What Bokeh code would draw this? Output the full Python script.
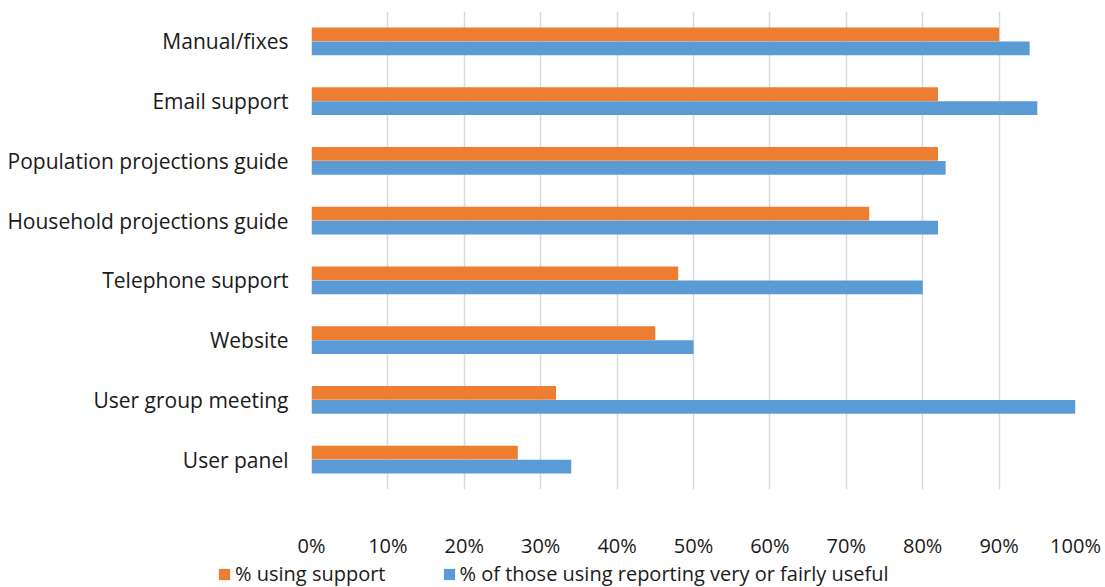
from bokeh.plotting import figure
from bokeh.layouts import column
from bokeh.models import FactorRange, FixedTicker, NumeralTickFormatter, Legend, LegendItem
from bokeh.transform import dodge
from bokeh.embed import file_html
from bokeh.resources import INLINE
from bokeh.models import ColumnDataSource

categories = ["Manual/fixes", "Email support", "Population projections guide",
              "Household projections guide", "Telephone support", "Website",
              "User group meeting", "User panel"]
using_support = [0.90, 0.82, 0.82, 0.73, 0.48, 0.45, 0.32, 0.27]
useful = [0.94, 0.95, 0.83, 0.82, 0.80, 0.50, 1.00, 0.34]
series_names = ["% using support", "% of those using reporting very or fairly useful"]
x_ticks = [0, 0.1, 0.2, 0.3, 0.4, 0.5, 0.6, 0.7, 0.8, 0.9, 1.0]

FONT = "Open Sans"
TXT = "#1a1a1a"
ORANGE = "#ED7D31"
BLUE = "#5B9BD5"
src = ColumnDataSource(dict(cat=categories, a=using_support, b=useful))

p = figure(width=1105, height=561, output_backend="svg", toolbar_location=None,
           y_range=FactorRange(*list(reversed(categories))), x_range=(0, 1),
           min_border_left=311, min_border_right=30, min_border_top=11, min_border_bottom=70)
p.outline_line_color = None

p.hbar(y=dodge("cat", 0.1167, range=p.y_range), right="a", left=0, height=0.233,
       source=src, color=ORANGE, line_color=None)
p.hbar(y=dodge("cat", -0.1167, range=p.y_range), right="b", left=0, height=0.233,
       source=src, color=BLUE, line_color=None)

p.xaxis.ticker = FixedTicker(ticks=x_ticks)
p.xaxis.formatter = NumeralTickFormatter(format="0%")
p.xaxis.axis_line_color = None
p.xaxis.major_tick_line_color = None
p.xaxis.minor_tick_line_color = None
p.xaxis.major_label_standoff = 36
p.xaxis.major_label_text_font = FONT
p.xaxis.major_label_text_font_size = "20px"
p.xaxis.major_label_text_color = TXT

p.yaxis.axis_line_color = None
p.yaxis.major_tick_line_color = None
p.yaxis.major_label_standoff = 17
p.yaxis.major_label_text_font = FONT
p.yaxis.major_label_text_font_size = "21px"
p.yaxis.major_label_text_color = TXT

p.ygrid.grid_line_color = None
p.xgrid.grid_line_color = "#d9d9d9"
p.xgrid.grid_line_width = 1.5

# legend strip
q = figure(width=1105, height=26, output_backend="svg", toolbar_location=None,
           x_range=(0, 1), y_range=(0, 1), min_border=0)
try:
    q.frame_align = False
    p.frame_align = False
except Exception:
    pass
q.axis.visible = False
q.grid.grid_line_color = None
q.outline_line_color = None
q.border_fill_color = "white"
lr1 = q.hbar(y=[-10], right=[1], height=0.1, color=ORANGE, line_color=None)
lr2 = q.hbar(y=[-10], right=[1], height=0.1, color=BLUE, line_color=None)
legend = Legend(items=[LegendItem(label=series_names[0], renderers=[lr1]),
                       LegendItem(label=series_names[1], renderers=[lr2])],
                orientation="horizontal", location=(217, 0),
                label_text_font=FONT, label_text_font_size="20px",
                label_text_color=TXT, glyph_width=14, glyph_height=14,
                spacing=56, label_standoff=4, padding=0, margin=0,
                border_line_color=None, background_fill_alpha=0)
q.add_layout(legend, "center")

layout = column(p, q, spacing=0)
open("out.html", "w").write(file_html(layout, INLINE))
